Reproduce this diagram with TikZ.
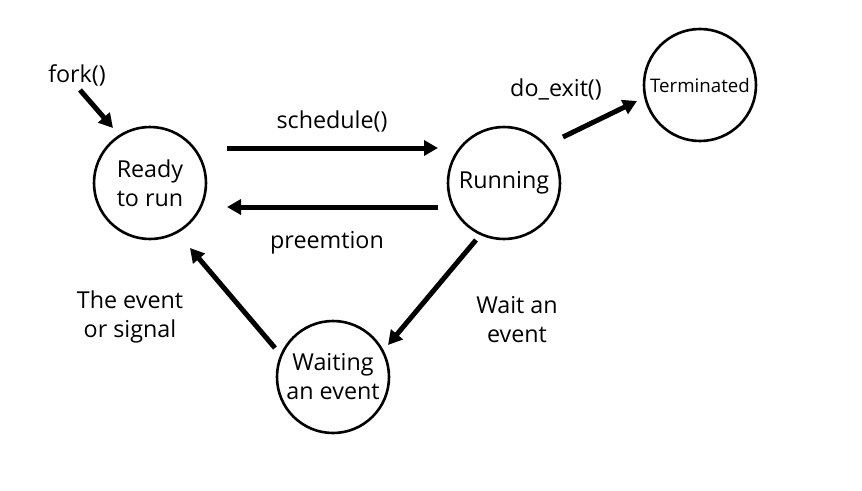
\documentclass[tikz,border=0pt]{standalone}
\usepackage{fontspec}
\setmainfont{Open Sans}
\usetikzlibrary{arrows.meta,calc}
\begin{document}
\begin{tikzpicture}[x=1pt,y=-1pt,
  state/.style={circle,draw=black,line width=2.6pt,minimum size=112pt,inner sep=0pt,align=center,
    font=\fontsize{23.3}{29}\selectfont},
  arr/.style={line width=5pt,-{Triangle[length=14pt,width=15pt]}},
  lbl/.style={align=center,font=\fontsize{23.3}{29}\selectfont,inner sep=0pt}]
\useasboundingbox[fill=white] (0,0) rectangle (862,490);
\node[state] (ready) at (150,183) {Ready\\to run};
\node[state] (run) at (504,183) {Running};
\node[state,font=\fontsize{18.7}{22}\selectfont] (term) at (700,85) {Terminated};
\node[state] (wait) at (333,377) {Waiting\\an event};
\coordinate (forkstart) at (80,90);
\draw[arr] (forkstart) -- ($(ready)+(-37,-55)$);
\draw[arr] ($(ready)+(77,-35)$) -- ($(run)+(-66,-35)$);
\draw[arr] ($(run)+(-66,24)$) -- ($(ready)+(77,24)$);
\draw[arr] ($(run)+(59,-46)$) -- ($(term)+(-63,16)$);
\draw[arr] ($(run)+(-28,57)$) -- ($(wait)+(55,-32)$);
\draw[arr] ($(wait)+(-58,-29)$) -- ($(ready)+(40,65)$);
\node[lbl] (lfork) at (77,75) {fork()};
\node[lbl] (lsched) at (332,121) {schedule()};
\node[lbl] (lpre) at (327,243) {preemtion};
\node[lbl] (lexit) at (556,89) {do\_exit()};
\node[lbl] (lsig) at (130,317) {The event\\or signal};
\node[lbl] (lwait) at (517,320) {Wait an\\event};
\end{tikzpicture}
\end{document}
